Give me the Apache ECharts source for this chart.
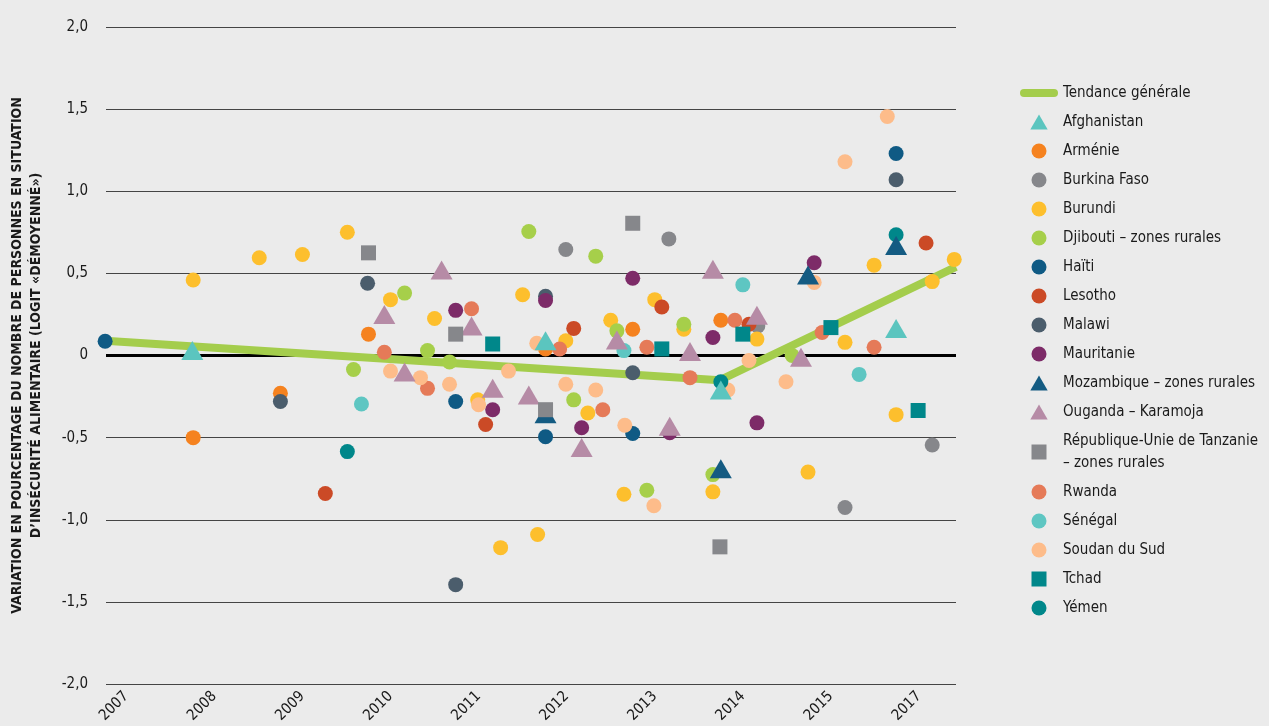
<!DOCTYPE html>
<html>
<head>
<meta charset="UTF-8">
<title>Variation de l'insécurité alimentaire</title>
<style>
	html, body { margin: 0; padding: 0; background: #ebebeb; }
	#main { width: 1269px; height: 726px; }
</style>
</head>
<body>
	<div id="main"></div>

<script src="https://cdn.jsdelivr.net/npm/echarts@6.0.0/dist/echarts.min.js"></script>
<script type="text/javascript">
	// axe X : position en années (0 = 2007, un pas par libellé)
	var yearLabels = ['2007', '2008', '2009', '2010', '2011', '2012', '2013', '2014', '2015', '2017'];

	var tendance = [[-0.24, 0.09], [6.74, -0.15], [9.42, 0.54]];

	var afghanistan = [[0.75, 0.03], [4.76, 0.09], [6.75, -0.21], [8.74, 0.165]];
	var armenie = [[0.76, -0.50], [1.75, -0.23], [2.75, 0.13], [4.76, 0.04], [5.75, 0.16], [6.75, 0.215]];
	var burkina = [[4.99, 0.645], [6.16, 0.71], [7.17, 0.18], [8.16, -0.925], [9.15, -0.545]];
	var burundi = [[0.76, 0.46], [1.51, 0.595], [2.0, 0.615], [2.51, 0.75], [3.0, 0.34], [3.5, 0.225],
		[3.99, -0.27], [4.25, -1.17], [4.5, 0.37], [4.67, -1.09], [4.99, 0.09], [5.24, -0.35],
		[5.5, 0.215], [5.65, -0.845], [6.0, 0.34], [6.33, 0.16], [6.66, -0.83], [7.16, 0.10],
		[7.74, -0.71], [8.16, 0.08], [8.49, 0.55], [8.74, -0.36], [9.15, 0.45], [9.4, 0.585]];
	var djibouti = [[2.58, -0.085], [3.16, 0.38], [3.42, 0.03], [3.67, -0.04], [4.57, 0.755], [5.08, -0.27],
		[5.33, 0.605], [5.57, 0.15], [5.91, -0.82], [6.33, 0.19], [6.66, -0.725], [7.56, 0.0]];
	var haiti = [[-0.24, 0.087], [3.74, -0.28], [4.76, -0.495], [5.75, -0.475], [8.74, 1.23]];
	var lesotho = [[2.26, -0.84], [4.08, -0.42], [5.08, 0.165], [6.08, 0.295], [7.07, 0.19], [9.08, 0.685]];
	var malawi = [[1.75, -0.28], [2.74, 0.44], [3.74, -1.395], [4.76, 0.36], [5.75, -0.105], [8.74, 1.07]];
	var mauritanie = [[3.74, 0.275], [4.16, -0.33], [4.76, 0.335], [5.17, -0.44], [5.75, 0.47], [6.17, -0.47],
		[6.66, 0.11], [7.16, -0.41], [7.81, 0.565]];
	var mozambique = [[4.76, -0.355], [6.75, -0.69], [7.74, 0.49], [8.74, 0.67]];
	var ouganda = [[2.93, 0.25], [3.16, -0.10], [3.58, 0.52], [3.92, 0.18], [4.16, -0.20], [4.57, -0.24],
		[5.17, -0.56], [5.57, 0.095], [6.17, -0.43], [6.4, 0.025], [6.66, 0.525], [7.16, 0.245], [7.66, -0.01]];
	var tanzanie = [[2.75, 0.625], [3.74, 0.13], [4.76, -0.33], [5.75, 0.805], [6.74, -1.165]];
	var rwanda = [[2.93, 0.02], [3.42, -0.20], [3.92, 0.285], [4.92, 0.04], [5.41, -0.33], [5.91, 0.05],
		[6.4, -0.135], [6.91, 0.215], [7.9, 0.14], [8.49, 0.05]];
	var senegal = [[2.67, -0.295], [5.65, 0.03], [7.0, 0.43], [8.32, -0.115]];
	var soudan = [[3.0, -0.095], [3.34, -0.135], [3.67, -0.175], [4.0, -0.30], [4.34, -0.095], [4.66, 0.075],
		[4.99, -0.175], [5.33, -0.21], [5.66, -0.425], [5.99, -0.915], [6.83, -0.21], [7.07, -0.03],
		[7.49, -0.16], [7.81, 0.445], [8.16, 1.18], [8.64, 1.455]];
	var tchad = [[4.16, 0.07], [6.08, 0.04], [7.0, 0.13], [8.0, 0.17], [8.99, -0.335]];
	var yemen = [[2.51, -0.585], [6.75, -0.16], [8.74, 0.735]];

	var FONT = '"Liberation Sans Narrow", "DejaVu Sans Condensed", "Roboto", sans-serif';
	var TXT = '#1a1a1a';
	var TRI = [22, 19];

	// icônes de légende (proportions gardées)
	var ICONS = {
		circle: 'circle',
		triangle: 'path://M0,19 L11,0 L22,19 Z',
		rect: 'path://M0,0 L15,0 L15,15 L0,15 Z',
		line: 'path://M4,0 L34,0 A4,4 0 0 1 34,8 L4,8 A4,4 0 0 1 4,0 Z'
	};

	// nom, données, symbole, couleur
	var pays = [
		['Afghanistan', afghanistan, 'triangle', '#5bc5bf'],
		['Arménie', armenie, 'circle', '#f5821f'],
		['Burkina Faso', burkina, 'circle', '#86878b'],
		['Burundi', burundi, 'circle', '#fdbf2d'],
		['Djibouti – zones rurales', djibouti, 'circle', '#a6cf4a'],
		['Haïti', haiti, 'circle', '#0f5a84'],
		['Lesotho', lesotho, 'circle', '#cb4a26'],
		['Malawi', malawi, 'circle', '#4b5d6c'],
		['Mauritanie', mauritanie, 'circle', '#7d2b68'],
		['Mozambique – zones rurales', mozambique, 'triangle', '#145b82'],
		['Ouganda – Karamoja', ouganda, 'triangle', '#b68ba6'],
		['République-Unie de Tanzanie\n– zones rurales', tanzanie, 'rect', '#86878b'],
		['Rwanda', rwanda, 'circle', '#e57a58'],
		['Sénégal', senegal, 'circle', '#5ec6c2'],
		['Soudan du Sud', soudan, 'circle', '#fdbc8a'],
		['Tchad', tchad, 'rect', '#00878a'],
		['Yémen', yemen, 'circle', '#00878a']
	];

	var series = [{
		name: 'Tendance générale',
		type: 'line',
		data: tendance,
		symbol: 'none',
		z: 2,
		lineStyle: { color: '#a4cd4c', width: 8 },
		itemStyle: { color: '#a4cd4c' },
		markLine: {
			silent: true,
			symbol: 'none',
			z: 1,
			label: { show: false },
			lineStyle: { color: '#000', width: 3, type: 'solid' },
			data: [{ yAxis: 0 }]
		}
	}];
	var legendData = [{ name: 'Tendance générale', icon: ICONS.line }];

	for (var i = 0; i < pays.length; i++) {
		var p = pays[i];
		var z = p[2] == 'circle' ? 3 : (p[2] == 'triangle' ? 5 : 6);
		series.push({
			name: p[0],
			type: 'scatter',
			data: p[1],
			symbol: p[2],
			symbolSize: p[2] == 'triangle' ? TRI : 15,
			clip: false,
			z: z,
			itemStyle: { color: p[3], opacity: 1 }
		});
		legendData.push({ name: p[0], icon: ICONS[p[2]] });
	}

	var option = {
		backgroundColor: '#ebebeb',
		animation: false,
		textStyle: { fontFamily: FONT, color: TXT },
		grid: { left: 104, right: 313, top: 27, bottom: 42 },
		legend: {
			orient: 'vertical',
			left: 1015,
			top: 77,
			itemWidth: 38,
			itemHeight: 15,
			itemGap: 7,
			symbolKeepAspect: true,
			textStyle: { fontFamily: FONT, fontSize: 15, lineHeight: 22, color: TXT },
			data: legendData
		},
		xAxis: {
			type: 'value',
			min: -0.23,
			max: 9.42,
			splitLine: { show: false },
			axisLine: { show: false },
			axisTick: { show: false },
			axisLabel: {
				customValues: [0, 1, 2, 3, 4, 5, 6, 7, 8, 9],
				rotate: 45,
				margin: 10,
				fontSize: 15,
				fontFamily: FONT,
				color: TXT,
				formatter: function (v) { return yearLabels[Math.round(v)]; }
			}
		},
		yAxis: {
			type: 'value',
			min: -2,
			max: 2,
			interval: 0.5,
			name: 'VARIATION EN POURCENTAGE DU NOMBRE DE PERSONNES EN SITUATION\nD’INSÉCURITÉ ALIMENTAIRE (LOGIT «DÉMOYENNÉ»)',
			nameLocation: 'middle',
			nameGap: 60,
			nameTextStyle: { fontFamily: FONT, fontWeight: 'bold', fontSize: 14, lineHeight: 19, color: TXT },
			axisLine: { show: false },
			axisTick: { show: false },
			splitLine: { lineStyle: { color: '#444', width: 1 } },
			axisLabel: {
				margin: 18,
				fontSize: 15,
				fontFamily: FONT,
				color: TXT,
				formatter: function (v) {
					return v === 0 ? '0' : v.toFixed(1).replace('.', ',');
				}
			}
		},
		series: series
	};

	var myChart = echarts.init(document.getElementById('main'));
	myChart.setOption(option);
</script>
</body>
</html>
